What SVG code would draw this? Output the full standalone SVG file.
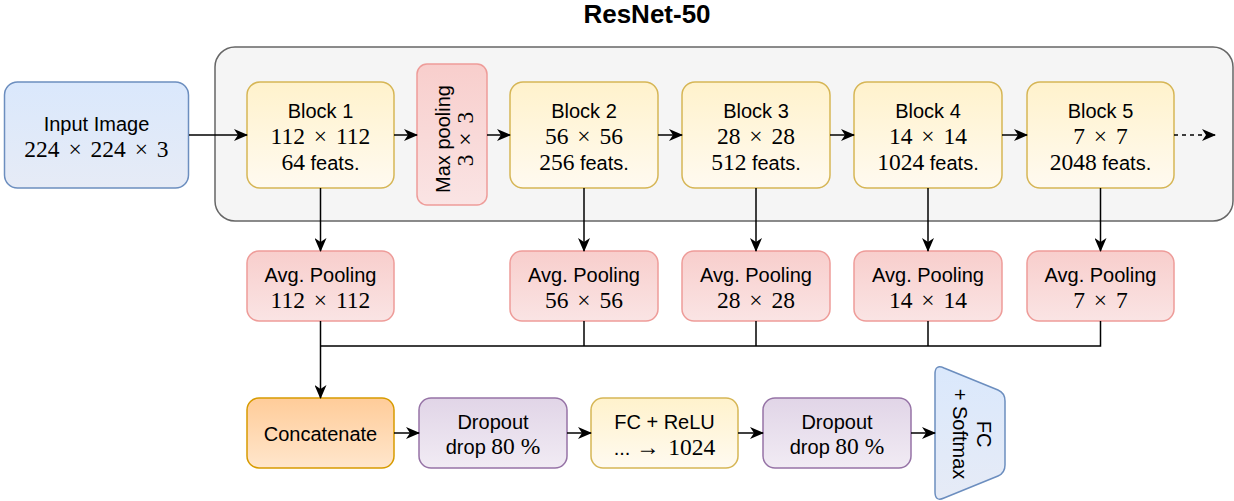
<svg xmlns="http://www.w3.org/2000/svg" width="1234" height="501" viewBox="0 0 1234 501">
<defs>
<linearGradient id="gY" x1="0" y1="0" x2="0" y2="1"><stop offset="0" stop-color="#fff2cc"/><stop offset="1" stop-color="#fffaf0"/></linearGradient>
<linearGradient id="gR" x1="0" y1="0" x2="0" y2="1"><stop offset="0" stop-color="#f8cecc"/><stop offset="1" stop-color="#fae4e4"/></linearGradient>
<linearGradient id="gB" x1="0" y1="0" x2="0" y2="1"><stop offset="0" stop-color="#dae8fc"/><stop offset="1" stop-color="#e6ebf6"/></linearGradient>
<linearGradient id="gO" x1="0" y1="0" x2="0" y2="1"><stop offset="0" stop-color="#ffcc99"/><stop offset="1" stop-color="#ffe6cc"/></linearGradient>
<linearGradient id="gP" x1="0" y1="0" x2="0" y2="1"><stop offset="0" stop-color="#e1d5e7"/><stop offset="1" stop-color="#f1ebf4"/></linearGradient>
<marker id="arr" viewBox="0 0 14 12" refX="13" refY="6" markerWidth="14" markerHeight="12" orient="auto" markerUnits="userSpaceOnUse"><path d="M0,0 L14,6 L0,12 L4,6 z" fill="#000"/></marker>
</defs>
<style>
.sans{font-family:"Liberation Sans",Arial,sans-serif;font-size:20px;fill:#000}
.serif{font-family:"Liberation Serif","Times New Roman",serif;font-size:23.5px}
.m{word-spacing:3px}
.t{text-anchor:middle}
.yel{fill:url(#gY);stroke:#d6b656;stroke-width:1.5}
.red{fill:url(#gR);stroke:#ee9c99;stroke-width:1.5}
.blu{fill:url(#gB);stroke:#6c8ebf;stroke-width:1.5}
.org{fill:url(#gO);stroke:#d79b00;stroke-width:1.5}
.pur{fill:url(#gP);stroke:#9673a6;stroke-width:1.5}
.c{fill:none;stroke:#000;stroke-width:1.5}
.ca{fill:none;stroke:#000;stroke-width:1.5;marker-end:url(#arr)}
</style>
<text x="647" y="23" class="sans t" style="font-weight:bold;font-size:26px">ResNet-50</text>
<g id="resnet">
<rect x="215" y="47" width="1018" height="174" rx="20" fill="#f5f5f5" stroke="#666666" stroke-width="1.5"/>
</g>
<g id="input">
<rect x="4.5" y="82" width="184" height="106" rx="13" class="blu"/>
<text class="sans t"><tspan x="96.5" y="131">Input Image</tspan><tspan x="96.5" y="157" class="serif m">224 × 224 × 3</tspan></text>
</g>
<g id="block1">
<rect x="247" y="82" width="147" height="106" rx="13" class="yel"/>
<text class="sans t"><tspan x="320.5" y="118">Block 1</tspan><tspan x="320.5" y="143.5" class="serif m">112 × 112</tspan><tspan x="320.5" y="169.5"><tspan class="serif">64</tspan> feats.</tspan></text>
</g>
<g id="maxpool">
<rect x="417" y="64" width="70" height="141" rx="10" class="red"/>
<text class="sans t" transform="translate(452,139) rotate(-90)"><tspan x="0" y="-2">Max pooling</tspan><tspan x="0" y="21" class="serif m">3 × 3</tspan></text>
</g>
<g id="block2">
<rect x="510" y="82" width="148" height="106" rx="13" class="yel"/>
<text class="sans t"><tspan x="584" y="118">Block 2</tspan><tspan x="584" y="143.5" class="serif m">56 × 56</tspan><tspan x="584" y="169.5"><tspan class="serif">256</tspan> feats.</tspan></text>
</g>
<g id="block3">
<rect x="682" y="82" width="148" height="106" rx="13" class="yel"/>
<text class="sans t"><tspan x="756" y="118">Block 3</tspan><tspan x="756" y="143.5" class="serif m">28 × 28</tspan><tspan x="756" y="169.5"><tspan class="serif">512</tspan> feats.</tspan></text>
</g>
<g id="block4">
<rect x="854" y="82" width="148" height="106" rx="13" class="yel"/>
<text class="sans t"><tspan x="928" y="118">Block 4</tspan><tspan x="928" y="143.5" class="serif m">14 × 14</tspan><tspan x="928" y="169.5"><tspan class="serif">1024</tspan> feats.</tspan></text>
</g>
<g id="block5">
<rect x="1027" y="82" width="147" height="106" rx="13" class="yel"/>
<text class="sans t"><tspan x="1100.5" y="118">Block 5</tspan><tspan x="1100.5" y="143.5" class="serif m">7 × 7</tspan><tspan x="1100.5" y="169.5"><tspan class="serif">2048</tspan> feats.</tspan></text>
</g>
<g id="avg1">
<rect x="247" y="251" width="147" height="70" rx="12" class="red"/>
<text class="sans t"><tspan x="320.5" y="282">Avg. Pooling</tspan><tspan x="320.5" y="307.5" class="serif m">112 × 112</tspan></text>
</g>
<g id="avg2">
<rect x="510" y="251" width="148" height="70" rx="12" class="red"/>
<text class="sans t"><tspan x="584" y="282">Avg. Pooling</tspan><tspan x="584" y="307.5" class="serif m">56 × 56</tspan></text>
</g>
<g id="avg3">
<rect x="682" y="251" width="148" height="70" rx="12" class="red"/>
<text class="sans t"><tspan x="756" y="282">Avg. Pooling</tspan><tspan x="756" y="307.5" class="serif m">28 × 28</tspan></text>
</g>
<g id="avg4">
<rect x="854" y="251" width="148" height="70" rx="12" class="red"/>
<text class="sans t"><tspan x="928" y="282">Avg. Pooling</tspan><tspan x="928" y="307.5" class="serif m">14 × 14</tspan></text>
</g>
<g id="avg5">
<rect x="1027" y="251" width="147" height="70" rx="12" class="red"/>
<text class="sans t"><tspan x="1100.5" y="282">Avg. Pooling</tspan><tspan x="1100.5" y="307.5" class="serif m">7 × 7</tspan></text>
</g>
<g id="concat">
<rect x="247" y="398" width="147" height="70" rx="12" class="org"/>
<text x="320.5" y="441" class="sans t">Concatenate</text>
</g>
<g id="dropout1">
<rect x="419" y="398" width="148" height="70" rx="12" class="pur"/>
<text class="sans t"><tspan x="493" y="429">Dropout</tspan><tspan x="493" y="454">drop <tspan class="serif">80 %</tspan></tspan></text>
</g>
<g id="fcrelu">
<rect x="591" y="398" width="147" height="70" rx="12" class="yel"/>
<text class="sans t"><tspan x="664.5" y="429">FC + ReLU</tspan><tspan x="664.5" y="454.5">... <tspan class="serif m">→ 1024</tspan></tspan></text>
</g>
<g id="dropout2">
<rect x="763" y="398" width="148" height="70" rx="12" class="pur"/>
<text class="sans t"><tspan x="837" y="429">Dropout</tspan><tspan x="837" y="454">drop <tspan class="serif">80 %</tspan></tspan></text>
</g>
<g id="fcsoftmax">
<path d="M935,374 Q935,364 944,368 L998,390 Q1005,393 1005,401 L1005,465 Q1005,473 998,476 L944,498 Q935,502 935,492 Z" class="blu"/>
<text class="sans t" transform="translate(977,434) rotate(90)"><tspan x="0" y="0">FC</tspan><tspan x="0" y="24">+ Softmax</tspan></text>
</g>
<g id="connectors">
<path d="M189,135 H247" class="ca"/>
<path d="M394,135 H417" class="ca"/>
<path d="M487,135 H510" class="ca"/>
<path d="M658,135 H682" class="ca"/>
<path d="M830,135 H854" class="ca"/>
<path d="M1002,135 H1027" class="ca"/>
<path d="M1174,135 H1215" class="ca" stroke-dasharray="4 4"/>
<path d="M320.5,188 V251" class="ca"/>
<path d="M584,188 V251" class="ca"/>
<path d="M756,188 V251" class="ca"/>
<path d="M928,188 V251" class="ca"/>
<path d="M1100.5,188 V251" class="ca"/>
<path d="M320.5,321 V346" class="c"/>
<path d="M584,321 V346" class="c"/>
<path d="M756,321 V346" class="c"/>
<path d="M928,321 V346" class="c"/>
<path d="M1100.5,321 V346 H320.5" class="c" stroke-width="2"/>
<path d="M320.5,346 V398" class="ca" stroke-width="2"/>
<path d="M394,433 H419" class="ca"/>
<path d="M567,433 H591" class="ca"/>
<path d="M738,433 H763" class="ca"/>
<path d="M911,433 H935" class="ca"/>
</g>
</svg>
